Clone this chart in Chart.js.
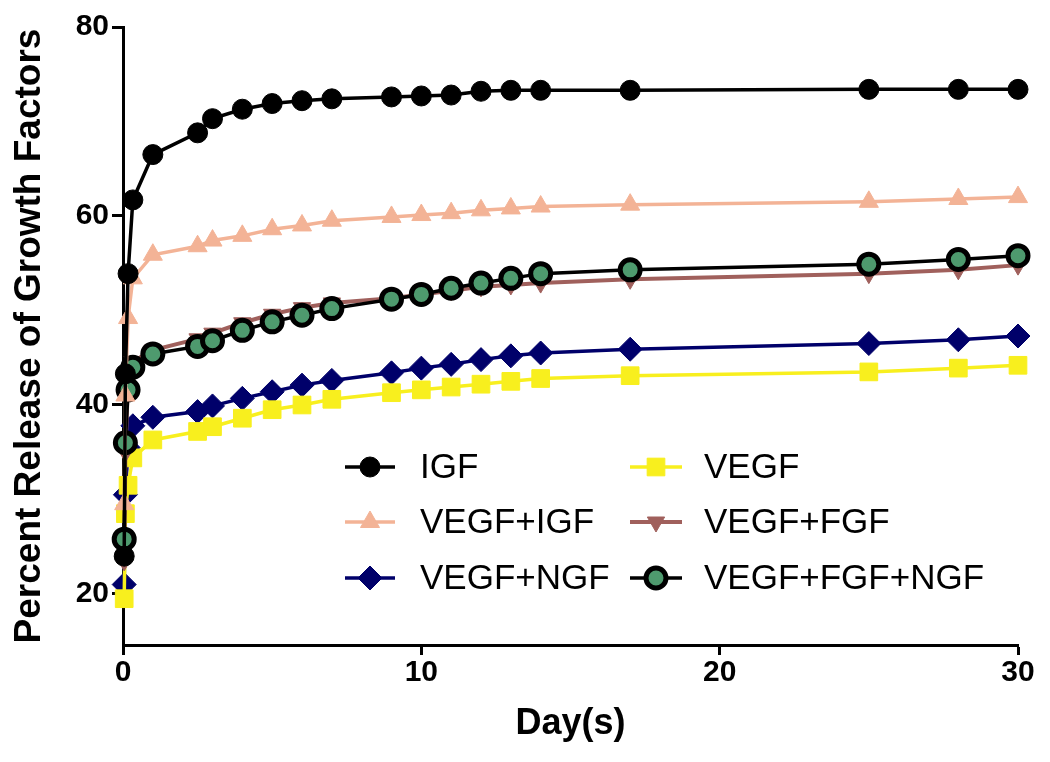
<!DOCTYPE html>
<html>
<head>
<meta charset="utf-8">
<script src="https://cdn.jsdelivr.net/npm/chart.js@4.4.1/dist/chart.umd.min.js"></script>
<style>
  html, body { margin: 0; padding: 0; background: #fff; }
  #wrap { width: 1050px; height: 762px; }
</style>
</head>
<body>
<div id="wrap"><canvas id="myChart" width="1050" height="762"></canvas></div>
<script>
'use strict';
// sampling times (days)
let days = [0.04, 0.08, 0.17, 0.33, 1, 2.5, 3, 4, 5, 6, 7, 9, 10, 11, 12, 13, 14, 17, 25, 28, 30];

let igf = [24, 43.3, 53.9, 61.7, 66.5, 68.8, 70.3, 71.3, 71.9, 72.2, 72.4, 72.6, 72.7, 72.8, 73.2, 73.3, 73.3, 73.3, 73.4, 73.4, 73.4];
let vegfIgf = [29.5, 41, 49.2, 53.4, 55.9, 56.8, 57.4, 57.9, 58.6, 59.0, 59.5, 59.9, 60.1, 60.3, 60.6, 60.8, 61.0, 61.2, 61.5, 61.8, 62.0];
let vegfNgf = [21.0, 30.5, 35.5, 37.8, 38.7, 39.3, 39.9, 40.7, 41.4, 42.1, 42.6, 43.4, 43.9, 44.3, 44.8, 45.2, 45.5, 45.9, 46.5, 46.9, 47.3];
let vegf = [19.5, 28.5, 31.5, 34.4, 36.3, 37.2, 37.7, 38.6, 39.5, 40.0, 40.6, 41.3, 41.6, 41.9, 42.2, 42.5, 42.8, 43.1, 43.5, 43.9, 44.2];
let vegfFgf = [23.5, 35, 42.5, 44.6, 45.8, 47.0, 47.6, 48.7, 49.6, 50.3, 50.8, 51.3, 51.7, 52.1, 52.5, 52.7, 52.9, 53.3, 53.9, 54.3, 54.8];
let vegfFgfNgf = [25.8, 36.0, 41.6, 44.0, 45.4, 46.2, 46.8, 47.9, 48.8, 49.5, 50.2, 51.2, 51.7, 52.35, 52.9, 53.4, 53.9, 54.3, 54.9, 55.4, 55.8];

let yTicks = [20, 40, 60, 80];
let xTicks = [0, 10, 20, 30];

function pts(vals) {
  return days.map(function (d, i) { return { x: d, y: vals[i] }; });
}

function series(label, vals, o) {
  return Object.assign({
    label: label,
    data: pts(vals),
    borderWidth: 3.5,
    tension: 0,
    pointBorderWidth: 1,
    clip: false
  }, o);
}

let datasets = [
  series('IGF', igf, { borderColor: '#000', backgroundColor: '#000', pointStyle: 'circle', pointRadius: 10, order: 1 }),
  series('VEGF', vegf, { borderColor: '#f8ef1e', backgroundColor: '#f8ef1e', pointStyle: 'rect', pointRadius: 12.5, order: 5 }),
  series('VEGF+IGF', vegfIgf, { borderColor: '#f3b396', backgroundColor: '#f3b396', pointStyle: 'triangle', pointRadius: 11, order: 2 }),
  series('VEGF+FGF', vegfFgf, { borderColor: '#a0605c', backgroundColor: '#a0605c', pointStyle: 'triangle', pointRotation: 180, pointRadius: 10, borderWidth: 4, order: 4 }),
  series('VEGF+NGF', vegfNgf, { borderColor: '#00006a', backgroundColor: '#00006a', pointStyle: 'rectRot', pointRadius: 12, order: 6 }),
  series('VEGF+FGF+NGF', vegfFgfNgf, { borderColor: '#000', backgroundColor: '#4e9a6e', pointBorderColor: '#000', pointStyle: 'circle', pointRadius: 10, pointBorderWidth: 5, order: 3 })
];

// legend drawn inside the plot, two columns
let legendSpots = [
  { x1: 345, x2: 395, tx: 420, y: 467 },
  { x1: 630, x2: 682, tx: 704, y: 467 },
  { x1: 345, x2: 395, tx: 420, y: 522 },
  { x1: 630, x2: 682, tx: 704, y: 522 },
  { x1: 345, x2: 395, tx: 420, y: 578 },
  { x1: 630, x2: 682, tx: 704, y: 578 }
];

let insideLegend = {
  id: 'insideLegend',
  afterDraw: function (chart) {
    let ctx = chart.ctx;
    chart.data.datasets.forEach(function (ds, i) {
      let s = legendSpots[i];
      ctx.save();
      ctx.strokeStyle = ds.borderColor;
      ctx.lineWidth = ds.borderWidth;
      ctx.beginPath();
      ctx.moveTo(s.x1, s.y);
      ctx.lineTo(s.x2, s.y);
      ctx.stroke();
      ctx.fillStyle = ds.backgroundColor;
      ctx.strokeStyle = ds.pointBorderColor || ds.borderColor;
      ctx.lineWidth = ds.pointBorderWidth;
      Chart.helpers.drawPoint(ctx, {
        pointStyle: ds.pointStyle,
        rotation: ds.pointRotation || 0,
        radius: ds.pointRadius,
        borderWidth: ds.pointBorderWidth
      }, (s.x1 + s.x2) / 2, s.y);
      ctx.fillStyle = '#000';
      ctx.font = '35px "Liberation Sans", Arial, sans-serif';
      ctx.textBaseline = 'middle';
      ctx.fillText(ds.label, s.tx, s.y + 1);
      ctx.restore();
    });
  }
};

let ctx = document.getElementById('myChart').getContext('2d');
let myChart = new Chart(ctx, {
  type: 'line',
  data: { datasets: datasets },
  plugins: [insideLegend],
  options: {
    responsive: false,
    animation: false,
    layout: { padding: { top: 27, right: 32, left: 0, bottom: 0 } },
    plugins: { legend: { display: false }, tooltip: { enabled: false } },
    scales: {
      x: {
        type: 'linear',
        min: 0,
        max: 30,
        afterBuildTicks: function (scale) { scale.ticks = xTicks.map(function (v) { return { value: v }; }); },
        afterFit: function (scale) { scale.height = 117; },
        border: { color: '#000', width: 3 },
        grid: { drawOnChartArea: false, drawTicks: true, tickLength: 10, tickWidth: 3, tickColor: '#000' },
        ticks: { color: '#000', padding: 0, font: { family: 'Liberation Sans', weight: 'bold', size: 30 } },
        title: { display: true, text: 'Day(s)', color: '#000', padding: { top: 4, bottom: 16 }, font: { family: 'Liberation Sans', weight: 'bold', size: 36 } }
      },
      y: {
        min: 14.6,
        max: 80,
        afterBuildTicks: function (scale) { scale.ticks = yTicks.map(function (v) { return { value: v }; }); },
        afterFit: function (scale) { scale.width = 123; },
        border: { color: '#000', width: 3 },
        grid: { drawOnChartArea: false, drawTicks: true, tickLength: 11, tickWidth: 3, tickColor: '#000' },
        ticks: { color: '#000', padding: 3, font: { family: 'Liberation Sans', weight: 'bold', size: 30 } },
        title: { display: true, text: 'Percent Release of Growth Factors', color: '#000', padding: { top: 8, bottom: 4 }, font: { family: 'Liberation Sans', weight: 'bold', size: 37 } }
      }
    }
  }
});
</script>
</body>
</html>
